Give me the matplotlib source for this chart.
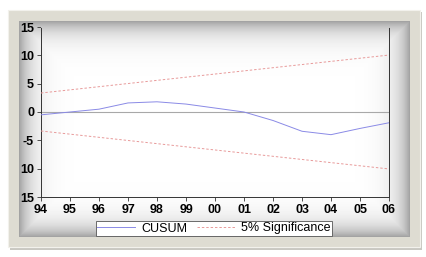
import numpy as np
import matplotlib
matplotlib.use("Agg")
import matplotlib.pyplot as plt
from matplotlib.patches import Rectangle

# CUSUM test, annual points 1994-2006
years = np.arange(1994, 2007)
year_labels = ["94", "95", "96", "97", "98", "99", "00", "01", "02", "03", "04", "05", "06"]
cusum = [-0.5, 0.0, 0.5, 1.6, 1.8, 1.4, 0.7, 0.0, -1.5, -3.4, -4.0, -2.9, -1.9]
bound_years = [1994, 2006]
upper = [3.35, 10.05]
lower = [-3.35, -10.05]
y_ticks = [15, 10, 5, 0, -5, -10, -15]
y_labels = ["15", "10", "5", "0", "-5", "10", "15"]

W, H = 427, 257
fig = plt.figure(figsize=(W / 100, H / 100), dpi=100)
fig.patch.set_facecolor("white")

def fx(px):
    return px / W

def fy(py):
    return 1 - py / H

# drop shadow + beige frame
fig.patches.append(Rectangle((fx(10), fy(250)), fx(412), 238 / H, transform=fig.transFigure,
                             facecolor="#c9c8c2", edgecolor="none", zorder=0))
fig.patches.append(Rectangle((fx(8), fy(247)), fx(412), 237 / H, transform=fig.transFigure,
                             facecolor="#dedcd2", edgecolor="#f2f1ec", lw=0.8, zorder=0))

# inner panel with soft gray vignette
bg = fig.add_axes([fx(19), fy(237), fx(391), 216 / H], zorder=1)
nx, ny = 391, 216
xx = np.arange(nx)[None, :]
yy = np.arange(ny)[:, None]
d = np.minimum(np.minimum(xx, nx - 1 - xx), np.minimum(yy, ny - 1 - yy)).astype(float)
shade = 0.64 + 0.36 * (1 - np.exp(-d / 12.0))
bg.imshow(shade, cmap="gray", vmin=0, vmax=1, aspect="auto", interpolation="bilinear")
bg.axis("off")

ax = fig.add_axes([fx(41), fy(197), fx(348), 170 / H], zorder=2)
ax.set_facecolor("none")
ax.axhline(0, color="#a8a8a8", lw=0.8, zorder=1)
ax.plot(years, cusum, color="#8a8ae6", lw=0.7, label="CUSUM", zorder=3)
ax.plot(bound_years, upper, color="#e89a9a", lw=0.7, ls=(0, (2.5, 2)), label="5% Significance", zorder=3)
ax.plot(bound_years, lower, color="#e89a9a", lw=0.7, ls=(0, (2.5, 2)), zorder=3)

ax.set_xlim(1994, 2006)
ax.set_ylim(-15, 15)
ax.set_xticks(years)
ax.set_xticklabels(year_labels)
ax.set_yticks(y_ticks)
ax.set_yticklabels(y_labels)
ax.tick_params(direction="out", length=3, width=0.6, color="#333333", labelsize=9, pad=2)
for lab in ax.get_xticklabels() + ax.get_yticklabels():
    lab.set_fontweight("bold")
    lab.set_family("Liberation Sans")
for side in ["left", "bottom", "right"]:
    ax.spines[side].set_color("#333333")
    ax.spines[side].set_linewidth(0.7)
ax.spines["top"].set_color("#c8c8c8")
ax.spines["top"].set_linewidth(0.7)

leg = fig.legend(loc="center", bbox_to_anchor=(fx(214), fy(228.5)), ncol=2, frameon=True,
                 fancybox=False, framealpha=1, edgecolor="#555555",
                 prop={"family": "Liberation Sans", "size": 9},
                 handlelength=3.0, handletextpad=0.5, columnspacing=0.8,
                 borderpad=0.1, borderaxespad=0)
leg.get_frame().set_linewidth(0.6)
leg.set_zorder(5)

fig.savefig("out.png", dpi=100)
